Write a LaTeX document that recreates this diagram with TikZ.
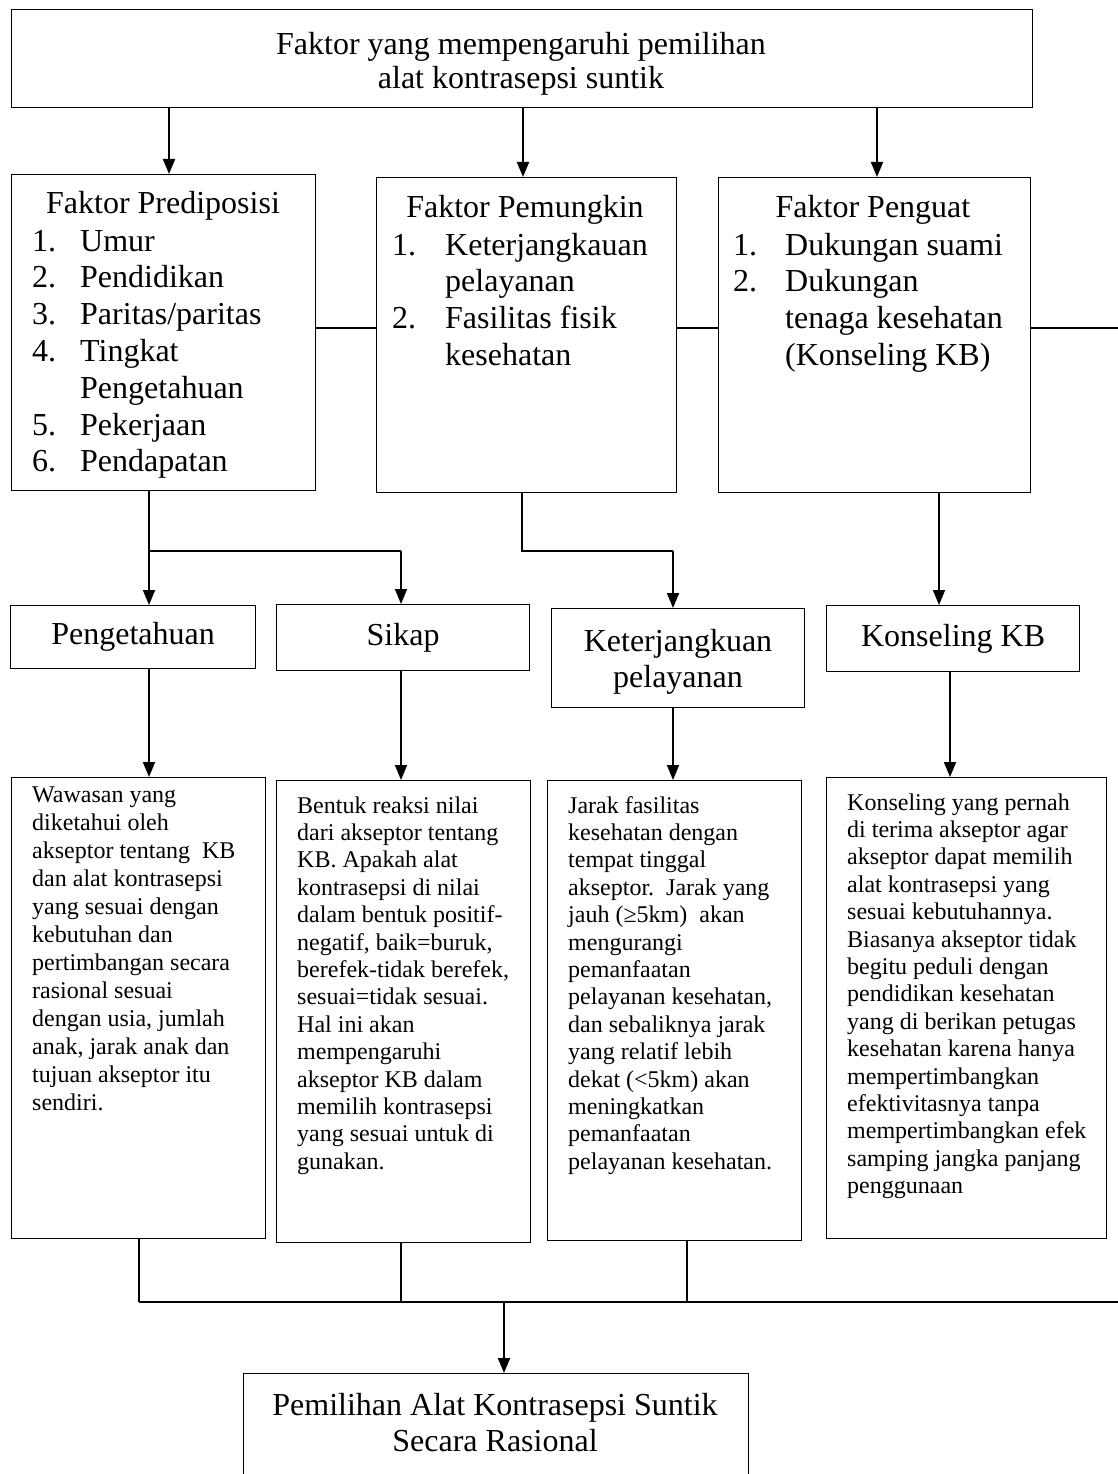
\documentclass[tikz,border=0pt]{standalone}
\usepackage{fontspec}
\setmainfont{Liberation Serif}
\usetikzlibrary{arrows.meta}
\newcommand\bigf{\fontsize{32}{36.8}\selectfont}
\newcommand\topf{\fontsize{32}{33.5}\selectfont}
\newcommand\smf{\fontsize{24}{27.4}\selectfont}
\newcommand\smfa{\fontsize{24}{28}\selectfont}
\begin{document}
\begin{tikzpicture}[x=1pt,y=-1pt,
  box/.style={draw, line width=1.2pt, inner sep=0pt, anchor=north west},
  arr/.style={line width=1.8pt, -{Triangle[length=15pt,width=12pt]}},
  ln/.style={line width=1.2pt},
  txt/.style={inner sep=0pt, anchor=base west},
  ctxt/.style={inner sep=0pt, anchor=base}]
\useasboundingbox[fill=white] (0,0) rectangle (1118,1474);
\clip (0,0) rectangle (1118,1474);

% boxes
\node[box, minimum width=1021, minimum height=98] (top) at (11,9) {};
\node[box, minimum width=304, minimum height=316] (pred) at (11,174) {};
\node[box, minimum width=300, minimum height=315] (pemu) at (376,177) {};
\node[box, minimum width=312, minimum height=315] (peng) at (718,177) {};

\node[box, minimum width=245, minimum height=63, font=\bigf] (pengt) at (10,605) {Pengetahuan};
\node[box, minimum width=253, minimum height=66, font=\bigf] (sikap) at (276,604) {Sikap};
\node[box, minimum width=253, minimum height=99] (ket) at (551,608) {};
\node[box, minimum width=253, minimum height=66, font=\bigf] (kons) at (826,605) {Konseling KB};

\node[box, minimum width=254, minimum height=461] (d1) at (11,777) {};
\node[box, minimum width=254, minimum height=462] (d2) at (276,780) {};
\node[box, minimum width=254, minimum height=460] (d3) at (547,780) {};
\node[box, minimum width=280, minimum height=461] (d4) at (826,777) {};

\node[box, minimum width=505, minimum height=140] (fin) at (243,1373) {};

% top text
\node[ctxt, font=\topf] (ttop) at (521,55) {\begin{tabular}[t]{@{}c@{}}
Faktor yang mempengaruhi pemilihan\\alat kontrasepsi suntik\end{tabular}};

% level 2 texts
\node[ctxt, font=\bigf] (predt) at (163,213) {Faktor Prediposisi};
\node[txt, font=\bigf] (predl) at (32,251) {\begin{tabular}[t]{@{}p{48pt}@{}l@{}}
1.&Umur\\2.&Pendidikan\\3.&Paritas/paritas\\4.&Tingkat\\&Pengetahuan\\5.&Pekerjaan\\6.&Pendapatan\end{tabular}};
\node[ctxt, font=\bigf] (pemut) at (525,217) {Faktor Pemungkin};
\node[txt, font=\bigf] (pemul) at (392,255) {\begin{tabular}[t]{@{}p{53pt}@{}l@{}}
1.&Keterjangkauan\\&pelayanan\\2.&Fasilitas fisik\\&kesehatan\end{tabular}};
\node[ctxt, font=\bigf] (pengtt) at (873,217) {Faktor Penguat};
\node[txt, font=\bigf] (pengl) at (733,255) {\begin{tabular}[t]{@{}p{52pt}@{}l@{}}
1.&Dukungan suami\\2.&Dukungan\\&tenaga kesehatan\\&(Konseling KB)\end{tabular}};

% level 3 two-line text
\node[ctxt, font=\bigf] (kett) at (678,651) {\begin{tabular}[t]{@{}c@{}}
Keterjangkuan\\pelayanan\end{tabular}};

% level 4 texts
\node[txt, font=\smfa] (d1t) at (32,802) {\begin{tabular}[t]{@{}l@{}}
Wawasan yang\\diketahui oleh\\akseptor tentang\ \ KB\\dan alat kontrasepsi\\yang sesuai dengan\\kebutuhan dan\\pertimbangan secara\\rasional sesuai\\dengan usia, jumlah\\anak, jarak anak dan\\tujuan akseptor itu\\sendiri.\end{tabular}};
\node[txt, font=\smf] (d2t) at (297,813) {\begin{tabular}[t]{@{}l@{}}
Bentuk reaksi nilai\\dari akseptor tentang\\KB. Apakah alat\\kontrasepsi di nilai\\dalam bentuk positif-\\negatif, baik=buruk,\\berefek-tidak berefek,\\sesuai=tidak sesuai.\\Hal ini akan\\mempengaruhi\\akseptor KB dalam\\memilih kontrasepsi\\yang sesuai untuk di\\gunakan.\end{tabular}};
\node[txt, font=\smf] (d3t) at (568,813) {\begin{tabular}[t]{@{}l@{}}
Jarak fasilitas\\kesehatan dengan\\tempat tinggal\\akseptor.\ \ Jarak yang\\jauh (≥5km)\ \ akan\\mengurangi\\pemanfaatan\\pelayanan kesehatan,\\dan sebaliknya jarak\\yang relatif lebih\\dekat (<5km) akan\\meningkatkan\\pemanfaatan\\pelayanan kesehatan.\end{tabular}};
\node[txt, font=\smf] (d4t) at (847,810) {\begin{tabular}[t]{@{}l@{}}
Konseling yang pernah\\di terima akseptor agar\\akseptor dapat memilih\\alat kontrasepsi yang\\sesuai kebutuhannya.\\Biasanya akseptor tidak\\begitu peduli dengan\\pendidikan kesehatan\\yang di berikan petugas\\kesehatan karena hanya\\mempertimbangkan\\efektivitasnya tanpa\\mempertimbangkan efek\\samping jangka panjang\\penggunaan\end{tabular}};

\node[ctxt, font=\bigf] (fint) at (495,1415) {\begin{tabular}[t]{@{}c@{}}
Pemilihan Alat Kontrasepsi Suntik\\Secara Rasional\end{tabular}};

% helper coordinates
\coordinate (ca) at (169,0);
\coordinate (cb) at (523,0);
\coordinate (cc) at (877,0);
\coordinate (cd) at (149,0);
\coordinate (ce) at (401,0);
\coordinate (cf) at (522,0);
\coordinate (cg) at (673,0);
\coordinate (ch) at (939,0);
\coordinate (ci) at (950,0);
\coordinate (cj) at (139,0);
\coordinate (ck) at (687,0);
\coordinate (cl) at (504,0);
\coordinate (yl1) at (0,328);
\coordinate (yl2) at (0,551);
\coordinate (yl3) at (0,1302);
\coordinate (re1) at (1118,328);
\coordinate (re2) at (1118,1302);

% connectors
\draw[arr] (top.south -| ca) -- (pred.north -| ca);
\draw[arr] (top.south -| cb) -- (pemu.north -| cb);
\draw[arr] (top.south -| cc) -- (peng.north -| cc);

\draw[ln] (pred.east |- yl1) -- (pemu.west |- yl1);
\draw[ln] (pemu.east |- yl1) -- (peng.west |- yl1);
\draw[ln] (peng.east |- yl1) -- (re1);

\draw[line width=1.8pt] (pred.south -| cd) -- (cd |- yl2);
\draw[ln] (cd |- yl2) -- (ce |- yl2);
\draw[arr] (cd |- yl2) -- (pengt.north -| cd);
\draw[arr] (ce |- yl2) -- (sikap.north -| ce);

\draw[ln] (pemu.south -| cf) -- (cf |- yl2) -- (cg |- yl2);
\draw[arr] (cg |- yl2) -- (ket.north -| cg);

\draw[arr] (peng.south -| ch) -- (kons.north -| ch);

\draw[arr] (pengt.south -| cd) -- (d1.north -| cd);
\draw[arr] (sikap.south -| ce) -- (d2.north -| ce);
\draw[arr] (ket.south -| cg) -- (d3.north -| cg);
\draw[arr] (kons.south -| ci) -- (d4.north -| ci);

\draw[ln] (d1.south -| cj) -- (cj |- yl3);
\draw[ln] (d2.south -| ce) -- (ce |- yl3);
\draw[ln] (d3.south -| ck) -- (ck |- yl3);
\draw[ln] (cj |- yl3) -- (re2);
\draw[arr] (cl |- yl3) -- (fin.north -| cl);
\end{tikzpicture}
\end{document}
